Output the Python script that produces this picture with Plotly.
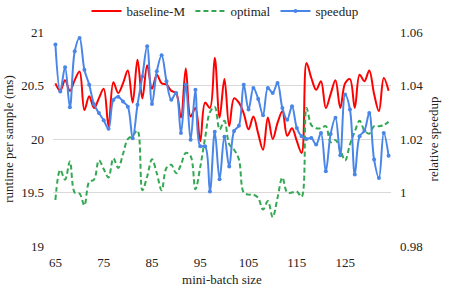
import plotly.graph_objects as go

batch = list(range(65, 135))

baseline_m = [20.52, 20.45, 20.55, 20.45, 20.55, 20.63, 20.27, 20.40, 20.29, 20.38,
              20.47, 20.12, 20.53, 20.43, 20.52, 20.64, 20.34, 20.74, 20.38, 20.69,
              20.47, 20.60, 20.52, 20.51, 20.45, 20.43, 20.20, 20.66, 20.21, 20.29,
              19.98, 20.34, 20.29, 20.76, 20.20, 20.56, 20.12, 20.38, 20.34, 20.24,
              20.09, 20.21, 20.05, 19.90, 20.20, 20.00, 20.15, 20.26, 20.03, 20.10,
              19.98, 19.87, 20.71, 20.57, 20.46, 20.54, 20.29, 20.42, 20.55, 20.29,
              20.52, 20.56, 20.29, 20.60, 20.54, 20.64, 20.42, 20.26, 20.57, 20.45]

optimal = [19.43, 19.71, 19.62, 19.79, 19.50, 19.49, 19.38, 19.60, 19.62, 19.80,
           19.72, 19.64, 19.82, 19.73, 19.86, 20.00, 20.03, 20.08, 19.52, 19.65,
           19.81, 19.68, 19.52, 19.73, 19.76, 19.68, 19.76, 19.87, 19.84, 19.53,
           19.74, 20.01, 20.25, 20.30, 20.09, 20.17, 19.95, 19.90, 19.81, 19.50,
           19.48, 19.48, 19.45, 19.34, 19.42, 19.27, 19.45, 19.64, 19.50, 19.50,
           19.51, 19.46, 20.29, 20.13, 20.10, 20.10, 20.12, 19.97, 19.99, 19.90,
           19.80, 19.95, 20.07, 20.17, 20.08, 20.05, 20.12, 20.12, 20.13, 20.16]

speedup = [1.0553, 1.0378, 1.0468, 1.0319, 1.0528, 1.0578, 1.0459, 1.0403, 1.0330, 1.0297,
           1.0270, 1.0238, 1.0346, 1.0358, 1.0340, 1.0321, 1.0203, 1.0328, 1.0434, 1.0547,
           1.0331, 1.0453, 1.0513, 1.0416, 1.0347, 1.0372, 1.0222, 1.0403, 1.0197, 1.0384,
           1.0173, 1.0173, 1.0004, 1.0227, 1.0050, 1.0208, 1.0097, 1.0230, 1.0250, 1.0403,
           1.0310, 1.0391, 1.0350, 1.0289, 1.0391, 1.0372, 1.0409, 1.0316, 1.0272, 1.0322,
           1.0241, 1.0210, 1.0200, 1.0204, 1.0179, 1.0222, 1.0079, 1.0219, 1.0279, 1.0139,
           1.0366, 1.0310, 1.0067, 1.0210, 1.0231, 1.0297, 1.0123, 1.0054, 1.0222, 1.0137]

x_ticks = [65, 75, 85, 95, 105, 115, 125]
y_ticks = [19, 19.5, 20, 20.5, 21]
y2_ticks = [0.98, 1.0, 1.02, 1.04, 1.06]

FAM = "Liberation Serif"
F = dict(family=FAM, size=13, color="#222222")

fig = go.Figure()
fig.add_trace(go.Scatter(x=batch, y=baseline_m, name="baseline-M", mode="lines",
                         line=dict(color="#ff0000", width=2, shape="spline", smoothing=1)))
fig.add_trace(go.Scatter(x=batch, y=optimal, name="optimal", mode="lines",
                         line=dict(color="#34a853", width=2, dash="5px,3px", shape="spline", smoothing=1)))
fig.add_trace(go.Scatter(x=batch, y=speedup, name="speedup", mode="lines+markers", yaxis="y2",
                         line=dict(color="#4a86e8", width=2, shape="spline", smoothing=1),
                         marker=dict(color="#4a86e8", size=4)))

fig.update_layout(
    width=450, height=290,
    margin=dict(l=53, r=59, t=32, b=44, autoexpand=False),
    paper_bgcolor="white", plot_bgcolor="white",
    font=F,
    showlegend=True,
    legend=dict(orientation="h", x=0.5, xanchor="center", xref="container",
                y=0.962, yanchor="middle", yref="container",
                font=F, itemwidth=30, tracegroupgap=0, bgcolor="rgba(0,0,0,0)"),
    xaxis=dict(range=[64.5, 134.5], tickvals=x_ticks, showgrid=False, zeroline=False,
               showline=False, ticks="", ticklabelstandoff=7, tickfont=F, automargin=False,
               title=dict(text="mini-batch size", standoff=5, font=F)),
    yaxis=dict(range=[19, 21], tickvals=y_ticks, showgrid=True, gridcolor="#d9d9d9",
               gridwidth=1, zeroline=False, showline=False, ticks="", ticklabelstandoff=8,
               tickfont=F, automargin=False,
               title=dict(text="runtime per sample (ms)", standoff=4, font=F)),
    yaxis2=dict(range=[0.98, 1.06], tickvals=y2_ticks, overlaying="y", side="right",
                showgrid=False, zeroline=False, showline=False, ticks="", ticklabelstandoff=8,
                tickfont=F, automargin=False,
                title=dict(text="relative speedup", standoff=6, font=F)),
)

fig.write_html("out.html", config={"displayModeBar": False},
               post_script="document.body.style.margin='0';document.body.style.overflow='hidden';")
